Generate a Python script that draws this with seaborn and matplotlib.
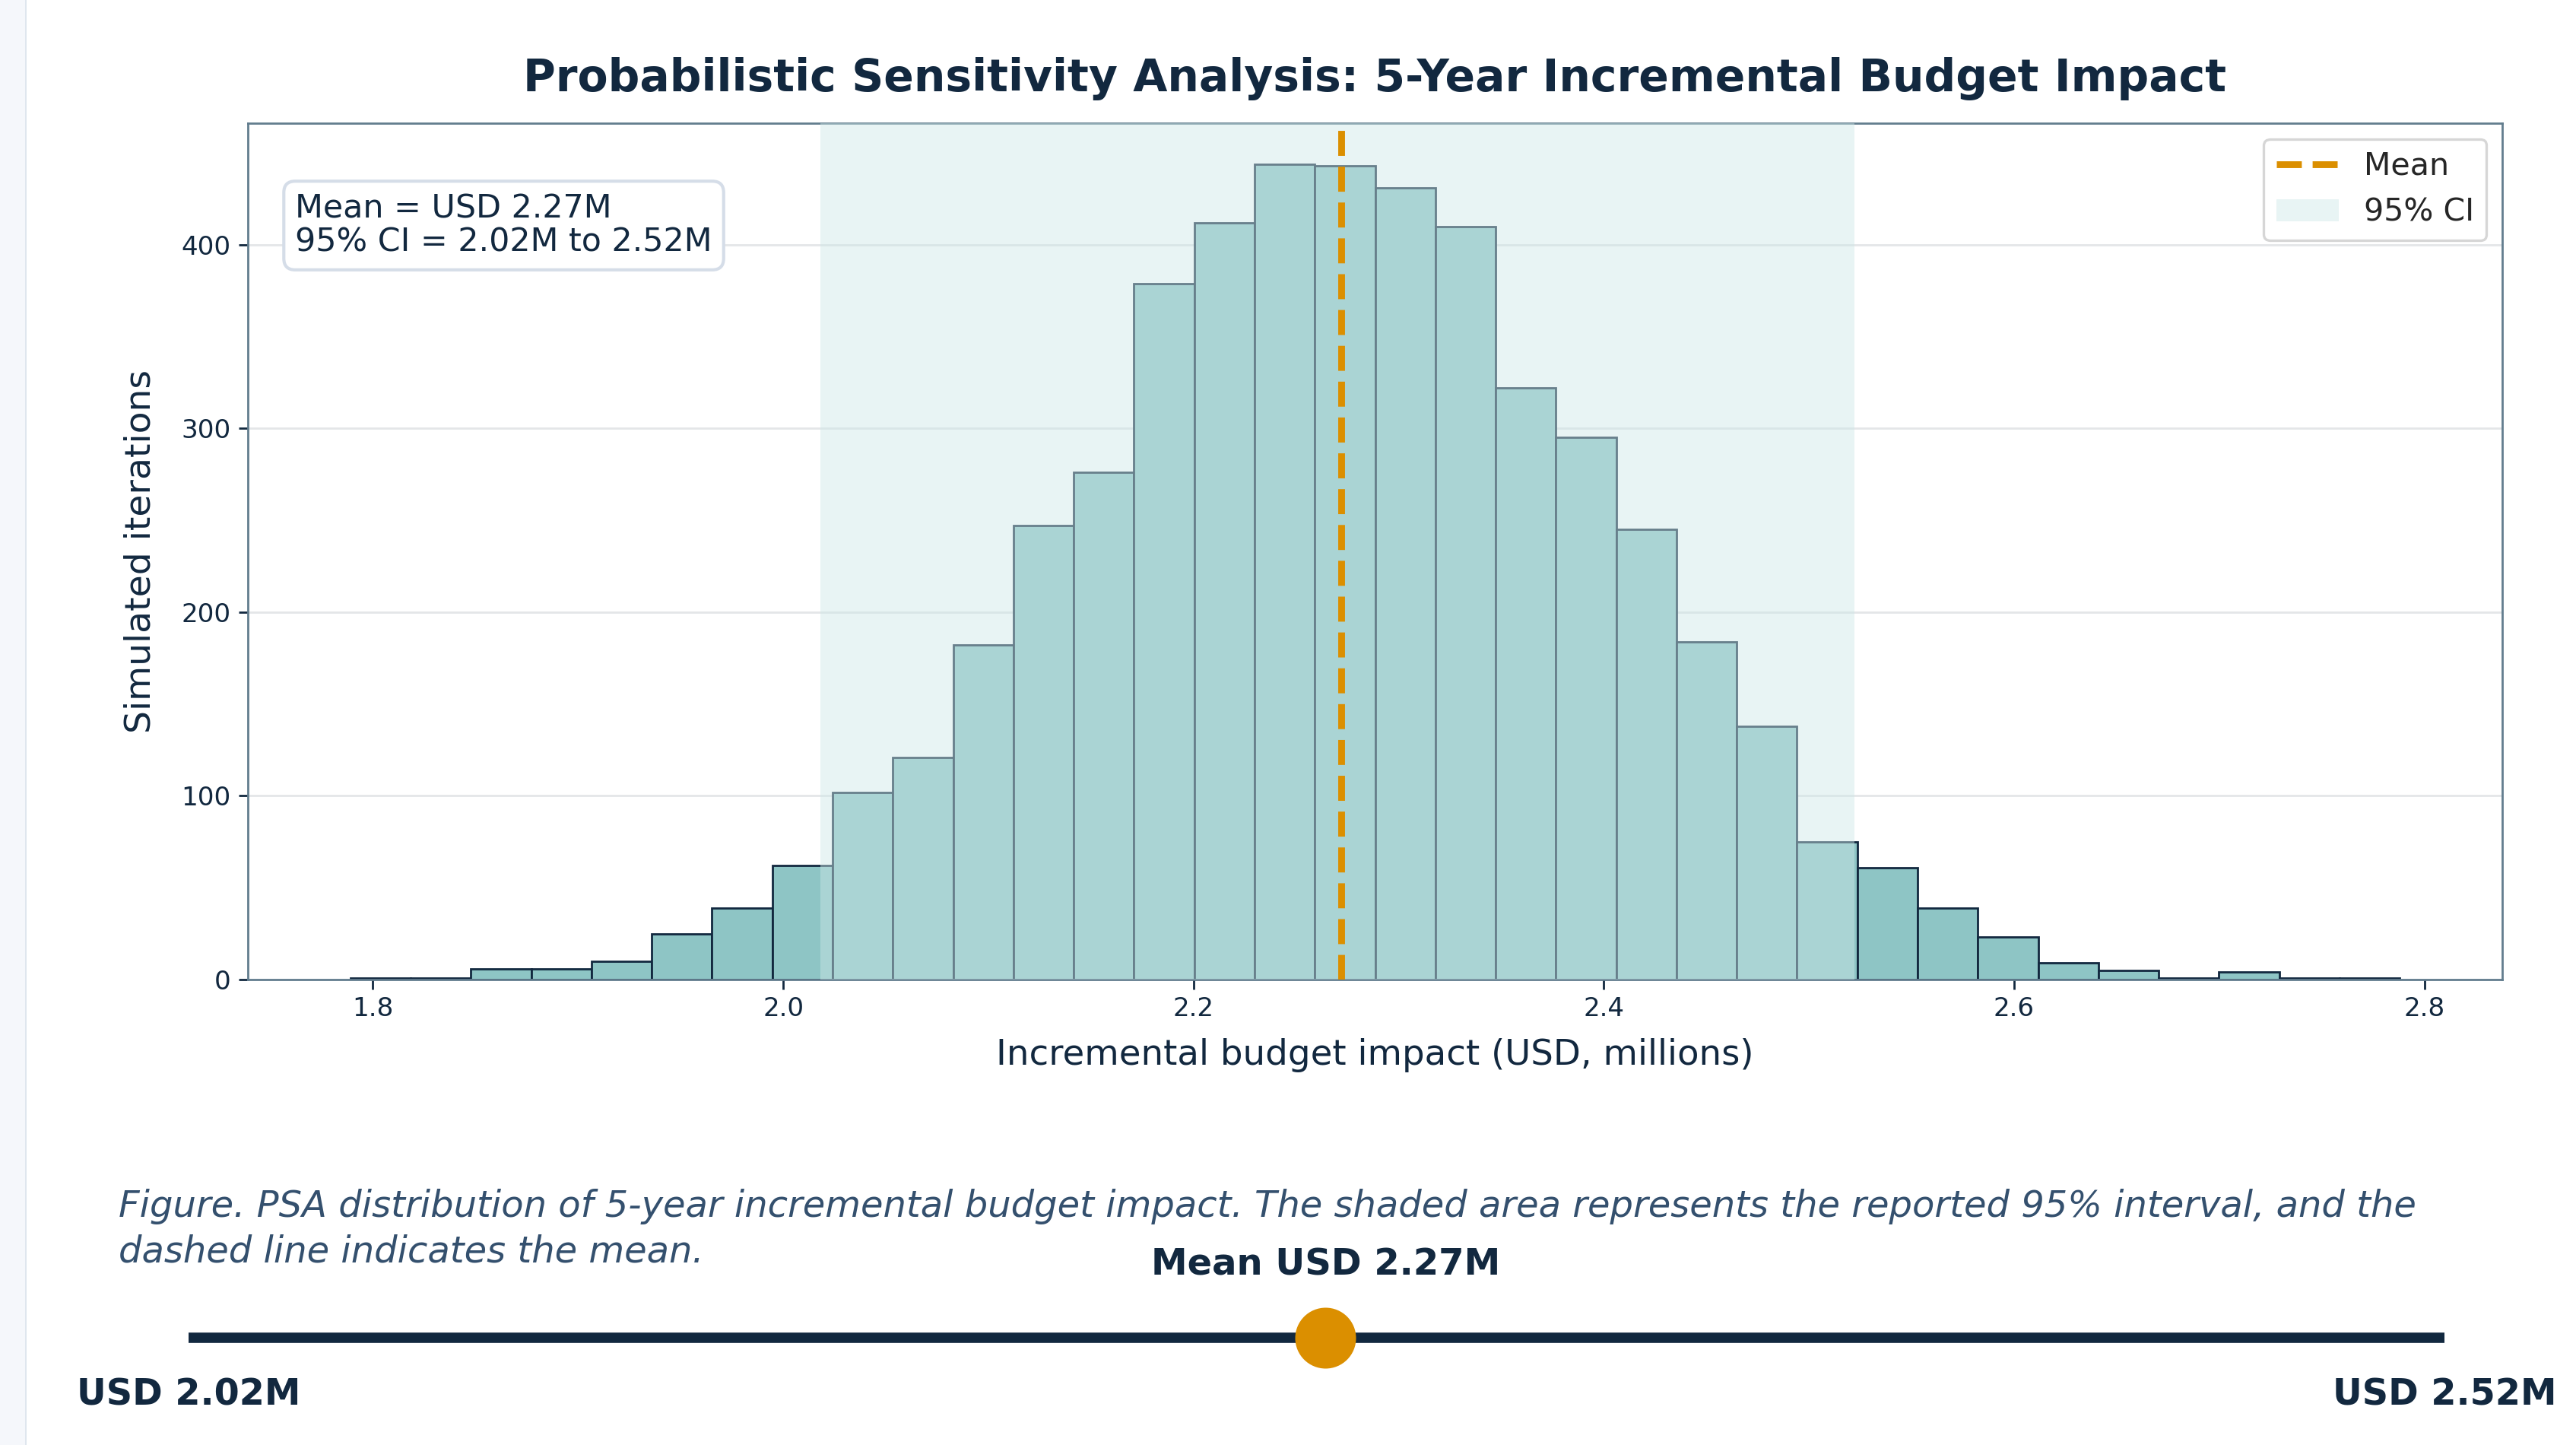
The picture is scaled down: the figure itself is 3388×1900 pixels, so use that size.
import numpy as np
import pandas as pd
import matplotlib.pyplot as plt
import seaborn as sns
from matplotlib.patches import Rectangle

# ─── Данные ──────────────────────────────────────────────────────────────────
bin_lo = 1.789          # левая граница первой корзины, млн USD
bin_hi = 2.788          # правая граница последней корзины
counts = [1, 1, 6, 6, 10, 25, 39, 62, 102, 121, 182, 247, 276, 379, 412, 444,
          443, 431, 410, 322, 295, 245, 184, 138, 75, 61, 39, 23, 9, 5, 1, 4, 1, 1]
mean_val = 2.272
ci_low = 2.018
ci_high = 2.522

title = "Probabilistic Sensitivity Analysis: 5-Year Incremental Budget Impact"
caption_lines = ["Figure. PSA distribution of 5-year incremental budget impact. The shaded area "
                 "represents the reported 95% interval, and the",
                 "dashed line indicates the mean."]

# ─── Стиль ──────────────────────────────────────────────────────────────────
sns.set_style("whitegrid")
plt.rcParams['font.family'] = 'DejaVu Sans'
plt.rcParams['axes.unicode_minus'] = False

NAVY = '#12283f'
TEAL = '#8ec5c5'
ORANGE = '#db8f00'
SPINE = '#627d8e'
SLATE = '#34506e'

fig = plt.figure(figsize=(16.94, 9.5), dpi=200, facecolor='white')

# боковая полоса слева (как на скриншоте)
fig.patches.append(Rectangle((0, 0), 33 / 3388, 1, transform=fig.transFigure,
                             facecolor='#f5f7fb', edgecolor='none', zorder=0))
fig.patches.append(Rectangle((33 / 3388, 0), 2 / 3388, 1, transform=fig.transFigure,
                             facecolor='#dfe6ee', edgecolor='none', zorder=0))

ax = fig.add_axes([326 / 3388, 1 - 1288 / 1900, (3291 - 326) / 3388, (1288 - 162) / 1900])

nbins = len(counts)
width = (bin_hi - bin_lo) / nbins
df = pd.DataFrame({'value': bin_lo + width * (np.arange(nbins) + 0.5), 'n': counts})
sns.histplot(data=df, x='value', weights='n', bins=nbins, binrange=(bin_lo, bin_hi),
             color=TEAL, alpha=1, edgecolor=NAVY, linewidth=1.0, ax=ax, zorder=2)

ax.axvspan(ci_low, ci_high, color='#cde7e7', alpha=0.46, lw=0, zorder=3, label='95% CI')
ax.axvline(mean_val, color=ORANGE, lw=3.2, ls='--', zorder=4, label='Mean')

ax.set_title(title, fontsize=21, fontweight='bold', color=NAVY, pad=15)
ax.set_xlabel("Incremental budget impact (USD, millions)", fontsize=16.8, color=NAVY, labelpad=8)
ax.set_ylabel("Simulated iterations", fontsize=17, color=NAVY, labelpad=11)

ax.grid(axis='y', color='#e4e6e8', lw=1.0)
ax.grid(axis='x', visible=False)
ax.set_axisbelow(True)
for s in ax.spines.values():
    s.set_color(SPINE)
    s.set_linewidth(1.0)
ax.tick_params(axis='both', labelsize=12.3, colors=NAVY, length=4.5, width=1.0,
               bottom=True, left=True)

# блок со статистикой
ax.text(0.021, 0.919,
        f"Mean = USD {mean_val:.2f}M\n95% CI = {ci_low:.2f}M to {ci_high:.2f}M",
        transform=ax.transAxes, ha='left', va='top', fontsize=15.4, color=NAVY,
        linespacing=1.08, zorder=6,
        bbox=dict(boxstyle='round,pad=0.35', facecolor='white', edgecolor='#d5dde8', lw=1.5))

handles, labels = ax.get_legend_handles_labels()
order = [labels.index('Mean'), labels.index('95% CI')]
leg = ax.legend([handles[i] for i in order], [labels[i] for i in order],
                loc='upper right', fontsize=14.8, frameon=True, fancybox=True)
leg.get_frame().set_edgecolor('#cccccc')
leg.get_frame().set_linewidth(1.2)

# подпись (две строки)
for i, line in enumerate(caption_lines):
    fig.text(156 / 3388, 1 - (1586 + 60 * i) / 1900, line, ha='left', va='center',
             fontsize=17.3, style='italic', color=SLATE)

# шкала интервала внизу
rax = fig.add_axes([248 / 3388, 1 - 1797 / 1900, (3215 - 248) / 3388, 76 / 1900])
rax.set_xlim(ci_low, ci_high)
rax.set_ylim(-1, 1)
rax.axis('off')
rax.plot([ci_low, ci_high], [0, 0], color=NAVY, lw=4.9, solid_capstyle='butt', clip_on=False)
rax.scatter([mean_val], [0], s=830, color=ORANGE, zorder=3, clip_on=False, linewidths=0)
rax.text(mean_val, 96 / 38, f"Mean USD {mean_val:.2f}M", ha='center', va='center',
         fontsize=17.3, fontweight='bold', color=NAVY, clip_on=False)
rax.text(ci_low, -75 / 38, f"USD {ci_low:.2f}M", ha='center', va='center',
         fontsize=17.2, fontweight='bold', color=NAVY, clip_on=False)
rax.text(ci_high, -75 / 38, f"USD {ci_high:.2f}M", ha='center', va='center',
         fontsize=17.2, fontweight='bold', color=NAVY, clip_on=False)

plt.savefig("out.png", dpi=200, facecolor='white')
